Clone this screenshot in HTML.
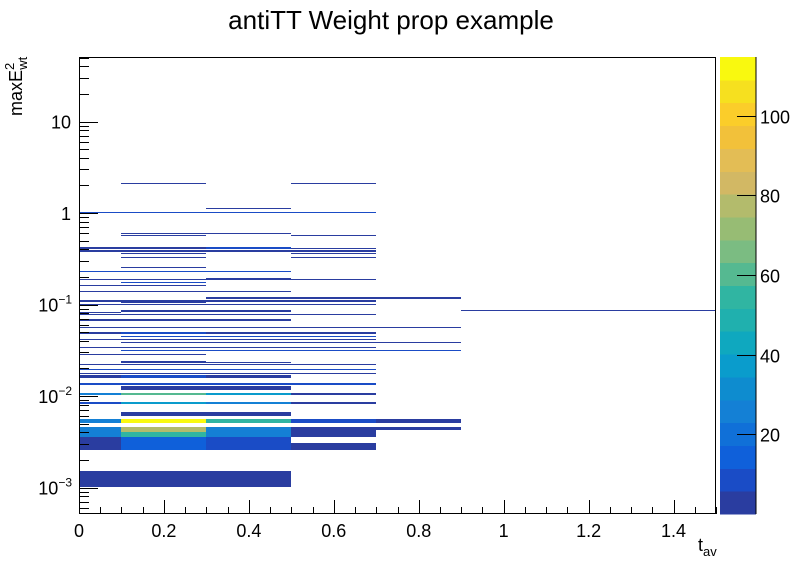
<!DOCTYPE html>
<html><head><meta charset="utf-8"><style>
body{margin:0;background:#fff;}
svg{display:block;font-family:"Liberation Sans",Arial,sans-serif;}
</style></head><body>
<svg id="chart" width="796" height="572" viewBox="0 0 796 572" xmlns="http://www.w3.org/2000/svg">
<rect x="0" y="0" width="796" height="572" fill="#fff"/>
<text x="391" y="29" font-size="26" text-anchor="middle">antiTT Weight prop example</text>
<g id="cells" shape-rendering="crispEdges"></g>
<rect x="79.5" y="57.5" width="636" height="456" fill="none" stroke="#000" stroke-width="1"/>
<g id="axes" shape-rendering="crispEdges"></g>
<text x="698" y="551" font-size="18">t<tspan font-size="13" dy="5">av</tspan></text>
<text transform="translate(22,116) rotate(-90)" font-size="18">maxE<tspan font-size="13" dy="-8">2</tspan><tspan font-size="13" dx="-7" dy="13">wt</tspan></text>
<g id="palette" shape-rendering="crispEdges"></g>
</svg>
<script>
const xEdges = [0, 0.1, 0.3, 0.5, 0.7, 0.9, 1.5];
const cellBinFrom = [1,3,2,0,1,1,3,1,0,2,3,0,1,3,1,3,1,0,2,0,1,3,0,0,2,3,0,1,0,1,0,5,0,2,0,0,0,1,2,1,0,1,0,1,0,1,1,0,0,0, 0,0,1,2,3, 1,1,0,2,3,4, 0,1,2,3,4, 1, 0,1,2,3, 0,1,2,3, 1, 0, 0,1,2];
const cellBinTo   = [1,3,2,3,2,1,3,1,0,2,3,3,1,3,1,3,1,2,2,1,1,3,1,2,2,4,3,1,3,2,0,5,3,2,1,4,0,1,3,3,3,4,3,4,1,1,2,3,3,3, 2,0,1,2,3, 1,1,0,2,3,4, 0,1,2,3,4, 2, 0,1,2,3, 0,1,2,3, 2, 3, 0,1,2];
const cellYHi = [2.112,2.112,1.126,1.018,0.6044,0.5706,0.5706,0.4198,0.4198,0.4198,0.412,0.3892,0.3628,0.3628,0.3279,0.3279,0.255,0.2323,0.196,0.19,0.1748,0.19,0.1621,0.1394,0.1193,0.1193,0.1106,0.107,0.1005,0.0864,0.0822,0.0864,0.0781,0.0701,0.0686,0.0563,0.05,0.05,0.05,0.0449,0.0417,0.0386,0.0341,0.0316,0.0286,0.024,0.0235,0.0222,0.0196,0.0177,
 0.00151,0.00356,0.00356,0.00356,0.00306,
 0.00458,0.00405,0.00458,0.00458,0.00458,0.00458,
 0.0056,0.0056,0.0056,0.0056,0.0056,
 0.0067,
 0.0086,0.0086,0.0086,0.0086,
 0.0108,0.0108,0.0108,0.0108,
 0.0129, 0.0138,
 0.017,0.017,0.017];
const cellYLo = [2.06,2.06,1.098,0.993,0.589,0.556,0.556,0.403,0.409,0.409,0.402,0.379,0.354,0.354,0.32,0.32,0.249,0.227,0.186,0.185,0.17,0.185,0.158,0.136,0.115,0.116,0.107,0.104,0.098,0.0822,0.08,0.0843,0.076,0.0664,0.0668,0.0549,0.048,0.048,0.048,0.0438,0.0406,0.0376,0.0332,0.0308,0.0279,0.0232,0.0229,0.0216,0.0191,0.0172,
 0.00101,0.00259,0.00259,0.00259,0.00259,
 0.00405,0.00356,0.00356,0.00356,0.00356,0.0042,
 0.00507,0.00507,0.00507,0.00507,0.00507,
 0.006,
 0.0082,0.0082,0.0082,0.0082,
 0.0103,0.0103,0.0103,0.0103,
 0.0116, 0.0133,
 0.0157,0.0157,0.0157];
const cellVal = [3,3,3,6,3,3,3,3,3,8,3,3,3,3,3,3,3,8,3,3,8,3,3,3,3,3,3,3,3,3,3,3,3,3,3,3,3,10,3,8,3,3,3,8,3,3,3,3,8,3,
 3,3,14,10,3,
 80,55,25,25,3,3,
 25,110,55,10,3,
 3,
 10,35,28,3,
 28,62,35,3,
 3, 8,
 3,10,3];
const paletteColors = ["#2a3da0","#1a4cc6","#0f60da","#1070d8","#1480d5","#0e8ccf","#0a9ccc","#0fa8bf","#20b0ae","#30b5a2","#55b991","#7bbc82","#97bc74","#b3bb6c","#d2b864","#e3bd55","#f2c13a","#fbcd2a","#f6e01f","#f9f90f"];
const zMax = 114.7;
const zTicks = [20,40,60,80,100];
const xTicks = [0,0.2,0.4,0.6,0.8,1,1.2,1.4];
const xTickLabels = ["0","0.2","0.4","0.6","0.8","1","1.2","1.4"];
const yDecades = [-3,-2,-1,0,1];

const NS = "http://www.w3.org/2000/svg";
const PX0=79, PX1=716, PY0=57, PY1=514;
const X_MIN=0, X_MAX=1.5;
const LOG_MIN=Math.log10(0.001) - (PY1-487.5)/91.5, LOG_MAX=1 + (121.5-PY0)/91.5;
function xs(v){return PX0+(v-X_MIN)/(X_MAX-X_MIN)*(PX1-PX0);}
function ys(v){const l=Math.log10(v);return PY1-(l-LOG_MIN)/(LOG_MAX-LOG_MIN)*(PY1-PY0);}
function zc(v){let i=Math.floor(v/zMax*paletteColors.length);if(i<0)i=0;if(i>=paletteColors.length)i=paletteColors.length-1;return paletteColors[i];}
function mk(tag,attrs,parent){const e=document.createElementNS(NS,tag);for(const k in attrs)e.setAttribute(k,attrs[k]);parent.appendChild(e);return e;}

const cg=document.getElementById('cells');
for(let i=0;i<cellVal.length;i++){
  for(let b=cellBinFrom[i];b<=cellBinTo[i];b++){
    const x0=Math.round(xs(xEdges[b])),x1=Math.round(xs(xEdges[b+1]));
    const y0=Math.round(ys(cellYHi[i]));
    const y1=Math.max(y0+1,Math.round(ys(cellYLo[i])));
    const r=mk('rect',{x:x0,y:y0,width:x1-x0,height:y1-y0,fill:zc(cellVal[i])},cg);
    
    
  }
}

const ag=document.getElementById('axes');
for(let k=0;k<=30;k++){
  const v=k*0.05; const x=Math.round(xs(v))+0.5; const major=(k%4===0);
  const t=mk('line',{x1:x,x2:x,y1:PY1,y2:PY1-(major?14:7),stroke:'#000','stroke-width':1},ag);
  
  
}
xTicks.forEach((v,i)=>{
  const t=mk('text',{x:xs(v),y:537,'font-size':18,'text-anchor':'middle'},ag);
  t.textContent=xTickLabels[i];
  
  
});
for(let d=-4;d<=1;d++){
  for(let m=1;m<=9;m++){
    const v=m*Math.pow(10,d); const y=Math.round(ys(v))+0.5;
    if(y<PY0-0.5||y>PY1+0.5)continue;
    const t=mk('line',{x1:PX0,x2:PX0+(m===1?19:10),y1:y,y2:y,stroke:'#000','stroke-width':1},ag);
    
    
  }
}
yDecades.forEach(d=>{
  const y=ys(Math.pow(10,d));
  const t=mk('text',{x:71,y:y+7,'font-size':18,'text-anchor':'end'},ag);
  
  
  if(d===0){t.textContent='1';}
  else if(d===1){t.textContent='10';}
  else{
    t.setAttribute('x', 72);
    t.textContent='10';
    const s=mk('tspan',{'font-size':12,dy:-8},t);
    s.textContent='\u2212'+(-d);
  }
});

const pg=document.getElementById('palette');
const CX0=720,CX1=756;
function zs(v){return PY1-(v/zMax)*(PY1-PY0);}
paletteColors.forEach((c,i)=>{
  const lo=i*zMax/paletteColors.length, hi=(i+1)*zMax/paletteColors.length;
  const r=mk('rect',{x:CX0,y:zs(hi),width:CX1-CX0,height:zs(lo)-zs(hi)+0.5,fill:c},pg);
  
  
});
const pax=mk('line',{x1:CX1,x2:CX1,y1:PY0,y2:PY1,stroke:'#000','stroke-width':1},pg);


zTicks.forEach(v=>{
  const y=Math.round(zs(v))+0.5;
  const t=mk('line',{x1:CX1-19,x2:CX1,y1:y,y2:y,stroke:'#000','stroke-width':1},pg);
  
  
  const l=mk('text',{x:760,y:y+7,'font-size':18},pg);
  l.textContent=String(v);
  
  
});
</script>
</body></html>
